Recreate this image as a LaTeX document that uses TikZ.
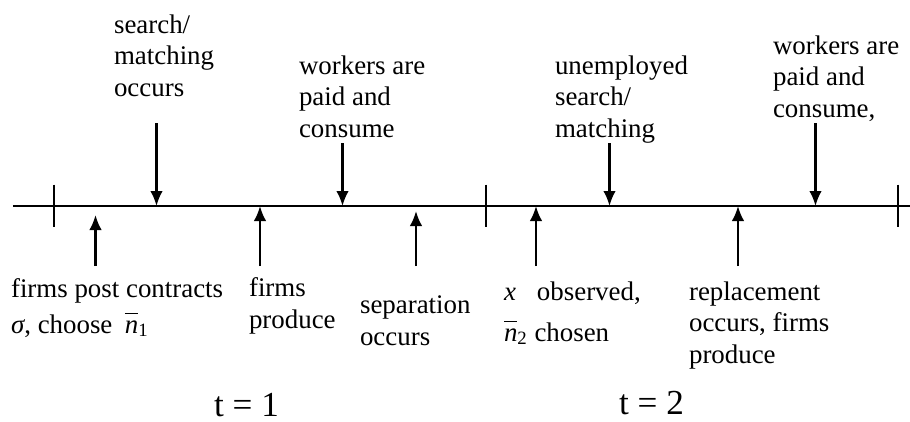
\documentclass[tikz,border=0pt]{standalone}
\usepackage{fontspec}
\setmainfont{Liberation Serif}
\usetikzlibrary{arrows.meta}
\newcommand{\nbar}[1]{$\overline{\vphantom{d}\mbox{\itshape n}}$\textsubscript{#1}}
\begin{document}
\begin{tikzpicture}[line width=1.2pt, >={Latex[length=3mm,width=2.5mm]},
    lbl/.style={anchor=base west, align=left, inner sep=0pt, font=\fontsize{15.3pt}{17.8pt}\selectfont},
    period/.style={anchor=base, inner sep=0pt, font=\fontsize{20pt}{24pt}\selectfont}]
  \useasboundingbox (0,-4.3) rectangle (18.2,4.12);

  % time line with period ticks
  \coordinate (start) at (0.26,0);
  \coordinate (end) at (18.2,0);
  \draw (start) -- (end);
  \draw (1.08,0.43) -- (1.08,-0.41);
  \draw (9.72,0.43) -- (9.72,-0.41);
  \draw (17.96,0.43) -- (17.96,-0.41);

  % events above the line (base = last line)
  \node [lbl] (search) at (2.26,2.2) {search/\\matching\\occurs};
  \node [lbl] (paid1) at (5.96,1.38) {workers are\\paid and\\consume};
  \node [lbl] (unemp) at (11.08,1.38) {unemployed\\search/\\matching};
  \node [lbl] (paid2) at (15.44,1.78) {workers are\\paid and\\consume,};

  \coordinate (search top) at (3.13,1.66);
  \coordinate (search pt) at (3.13,0);
  \coordinate (paid1 top) at (6.85,1.26);
  \coordinate (paid1 pt) at (6.85,0);
  \coordinate (unemp top) at (12.19,1.26);
  \coordinate (unemp pt) at (12.19,0);
  \coordinate (paid2 top) at (16.31,1.66);
  \coordinate (paid2 pt) at (16.31,0);
  \draw [->] (search top) -- (search pt);
  \draw [->] (paid1 top) -- (paid1 pt);
  \draw [->] (unemp top) -- (unemp pt);
  \draw [->] (paid2 top) -- (paid2 pt);

  % events below the line
  \node [lbl] (post) at (0.2,-2.54) {firms post contracts\\[2.3pt]\textit{σ}, choose\hspace{0.25cm}\nbar{1}};
  \node [lbl] (prod1) at (4.96,-2.44) {firms\\produce};
  \node [lbl] (sep) at (7.18,-2.78) {separation\\occurs};
  \node [lbl] (obs) at (10.06,-2.7) {\textit{x}\hspace{0.42cm}observed,\\[5pt]\nbar{2} chosen};
  \node [lbl] (repl) at (13.76,-3.14) {replacement\\occurs, firms\\produce};

  \coordinate (post bot) at (1.91,-1.2);
  \coordinate (post pt) at (1.91,-0.18);
  \coordinate (prod1 bot) at (5.2,-1.2);
  \coordinate (prod1 pt) at (5.2,0);
  \coordinate (sep bot) at (8.32,-1.2);
  \coordinate (sep pt) at (8.32,-0.1);
  \coordinate (obs bot) at (10.72,-1.2);
  \coordinate (obs pt) at (10.72,0);
  \coordinate (repl bot) at (14.76,-1.2);
  \coordinate (repl pt) at (14.76,0);
  \draw [->] (post bot) -- (post pt);
  \draw [->] (prod1 bot) -- (prod1 pt);
  \draw [->] (sep bot) -- (sep pt);
  \draw [->] (obs bot) -- (obs pt);
  \draw [->] (repl bot) -- (repl pt);

  % periods
  \node [period] (t1) at (4.93,-4.2) {t = 1};
  \node [period] (t2) at (13.03,-4.16) {t = 2};
\end{tikzpicture}
\end{document}
